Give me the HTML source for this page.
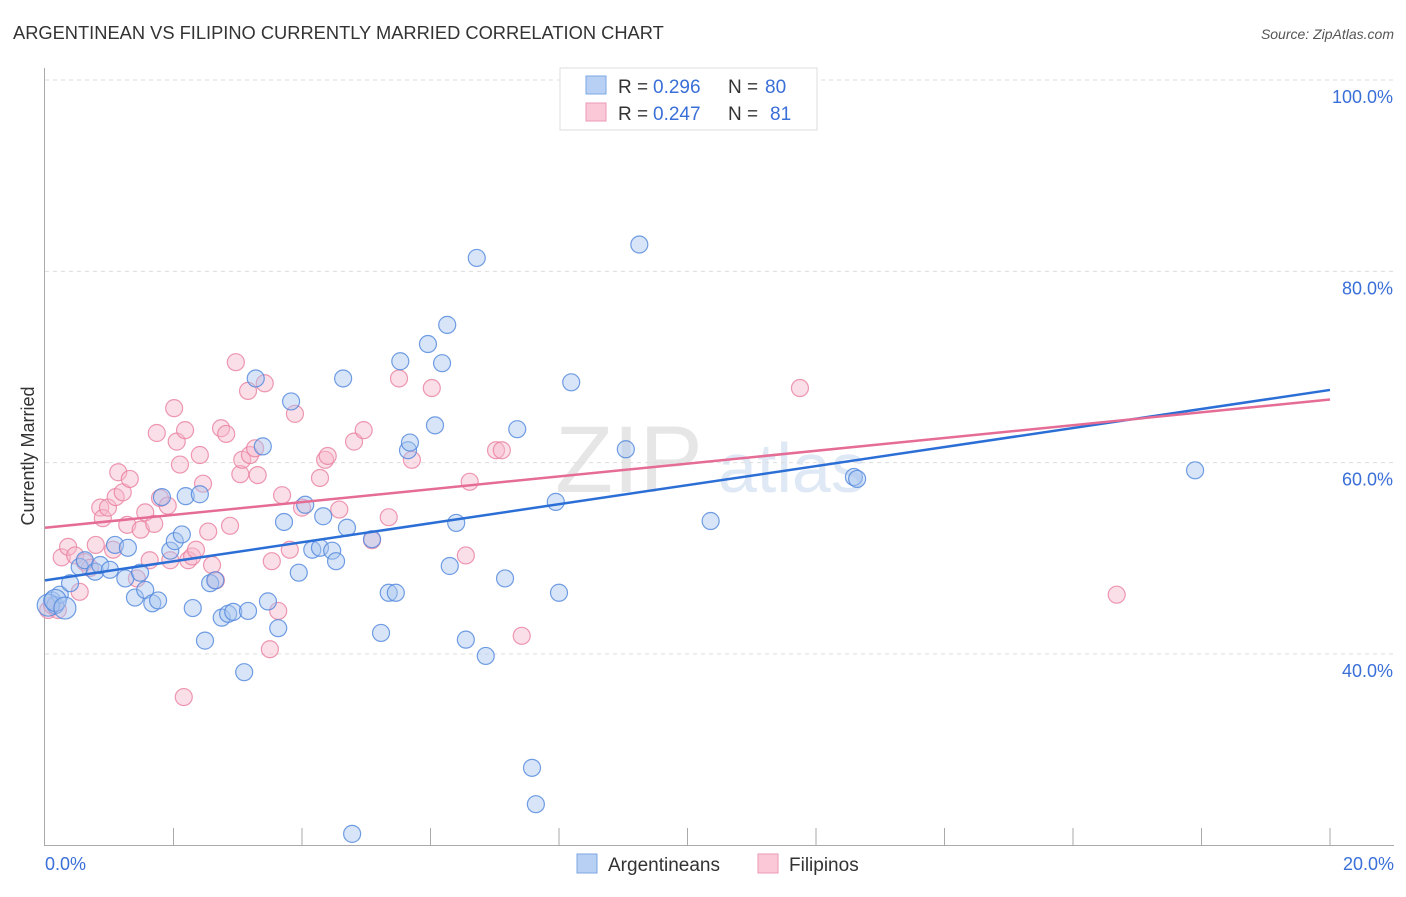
<!DOCTYPE html>
<html><head><meta charset="utf-8"><style>
body{margin:0;background:#fff;font-family:"Liberation Sans",sans-serif;}
svg text{font-family:"Liberation Sans",sans-serif;}
</style></head><body>
<svg id="c" width="1406" height="892">
<text x="13" y="39" font-size="18.3" fill="#333">ARGENTINEAN VS FILIPINO CURRENTLY MARRIED CORRELATION CHART</text>
<text x="1394" y="39" font-size="14" fill="#555" font-style="italic" text-anchor="end">Source: ZipAtlas.com</text>
<text x="555" y="492" font-size="95" fill="#e6e6e6" font-family="Liberation Serif">ZIP</text>
<text x="718" y="492" font-size="70" fill="#dfe8f5">atlas</text>
<text transform="translate(34,456) rotate(-90)" font-size="18" fill="#333" text-anchor="middle">Currently Married</text>
<g id="grid"></g><g id="pts"></g><g id="lines"></g>
<g>
<rect x="560" y="68" width="257" height="62" fill="#fff" stroke="#ddd"/>
<rect x="586" y="76" width="20" height="18" fill="#b8d0f3" stroke="#7ea6e6"/>
<rect x="586" y="103" width="20" height="18" fill="#fbc8d8" stroke="#ee9ab4"/>
<text x="618" y="93" font-size="19" fill="#333">R =</text>
<text x="653" y="93" font-size="19" fill="#3a6fd8">0.296</text>
<text x="728" y="93" font-size="19" fill="#333">N =</text>
<text x="765" y="93" font-size="19" fill="#3a6fd8">80</text>
<text x="618" y="120" font-size="19" fill="#333">R =</text>
<text x="653" y="120" font-size="19" fill="#3a6fd8">0.247</text>
<text x="728" y="120" font-size="19" fill="#333">N =</text>
<text x="770" y="120" font-size="19" fill="#3a6fd8">81</text>
</g>
<g>
<rect x="577" y="854" width="20" height="19" fill="#b8d0f3" stroke="#7ea6e6"/>
<text x="608" y="871" font-size="19" fill="#333">Argentineans</text>
<rect x="758" y="854" width="20" height="19" fill="#fbc8d8" stroke="#ee9ab4"/>
<text x="789" y="871" font-size="19" fill="#333">Filipinos</text>
</g>
<text x="45" y="870" font-size="18" fill="#3a6fd8">0.0%</text>
<text x="1394" y="870" font-size="18" fill="#3a6fd8" text-anchor="end">20.0%</text>
</svg>
<script>
const yTicks=[40,60,80,100];
const blueX=[0.11,0.16,0.23,0.39,0.54,0.62,0.78,0.86,1.01,1.09,1.25,1.29,1.40,1.48,1.56,1.67,1.76,1.82,1.95,2.02,2.13,2.19,2.30,2.41,2.49,2.57,2.65,2.75,2.85,2.93,3.10,3.16,3.28,3.39,3.47,3.63,3.72,3.83,3.95,4.05,4.16,4.28,4.33,4.47,4.53,4.64,4.70,4.78,5.09,5.23,5.35,5.46,5.53,5.65,5.68,5.96,6.07,6.18,6.26,6.30,6.40,6.55,6.72,6.86,7.16,7.35,7.58,7.64,7.95,8.00,8.19,9.04,9.25,10.36,12.59,12.64,17.90,0.05,0.16,0.31];
const blueY=[45.6,45.1,46.2,47.4,49.1,49.8,48.6,49.3,48.8,51.4,47.9,51.1,45.9,48.5,46.7,45.3,45.6,56.4,50.8,51.8,52.5,56.5,44.8,56.7,41.4,47.4,47.7,43.8,44.2,44.4,38.1,44.5,68.8,61.7,45.5,42.7,53.8,66.4,48.5,55.6,50.9,51.1,54.4,50.8,49.7,68.8,53.2,21.2,52.0,42.2,46.4,46.4,70.6,61.3,62.1,72.4,63.9,70.4,74.4,49.2,53.7,41.5,81.4,39.8,47.9,63.5,28.1,24.3,55.9,46.4,68.4,61.4,82.8,53.9,58.5,58.3,59.2,45.1,45.6,44.8];
const pinkX=[0.05,0.11,0.20,0.26,0.36,0.47,0.54,0.62,0.70,0.79,0.86,0.90,0.98,1.06,1.10,1.14,1.21,1.28,1.32,1.43,1.49,1.56,1.63,1.70,1.74,1.79,1.91,1.95,2.01,2.05,2.10,2.18,2.23,2.29,2.35,2.41,2.46,2.54,2.60,2.66,2.74,2.82,2.88,2.97,3.04,3.07,3.16,3.19,3.27,3.31,3.42,3.50,3.53,3.63,3.69,3.81,3.89,4.00,4.28,4.36,4.40,4.58,4.81,4.96,5.09,5.35,5.51,5.71,6.02,6.55,6.61,7.02,7.11,7.42,11.75,16.68,2.16];
const pinkY=[44.6,45.1,44.6,50.1,51.2,50.3,46.5,49.6,49.0,51.4,55.3,54.2,55.3,50.9,56.4,59.0,56.9,53.5,58.3,47.9,53.0,54.8,49.8,53.6,63.1,56.3,55.5,49.8,65.7,62.2,59.8,63.4,49.8,50.2,50.9,60.8,57.8,52.8,49.3,47.7,63.6,63.0,53.4,70.5,58.8,60.3,67.5,60.8,61.5,58.7,68.3,40.5,49.7,44.5,56.6,50.9,65.1,55.3,58.4,60.3,60.7,55.1,62.2,63.4,51.9,54.3,68.8,60.3,67.8,50.3,58.0,61.3,61.3,41.9,67.8,46.2,35.5];
const blueLine=[47.7,67.6], pinkLine=[53.2,66.6];
const X=v=>45+v*64.25, Y=v=>654-(v-40)*9.567;
const NS='http://www.w3.org/2000/svg';
const grid=document.getElementById('grid');
function mk(t,a,p){const e=document.createElementNS(NS,t);for(const k in a)e.setAttribute(k,a[k]);p.appendChild(e);return e;}
yTicks.forEach(t=>{
 const l=mk('line',{x1:45,x2:1394,y1:Y(t),y2:Y(t),stroke:'#ddd','stroke-dasharray':'4,4'},grid);
 
 
 const tx=mk('text',{x:1393,y:Y(t)+23,'font-size':18,fill:'#3a6fd8','text-anchor':'end'},grid);
 tx.textContent=t.toFixed(1)+'%';
 
 
});
const ax=mk('line',{x1:44.5,x2:44.5,y1:68,y2:846,stroke:'#aaa'},grid);


const bx=mk('line',{x1:44,x2:1394,y1:845.5,y2:845.5,stroke:'#aaa'},grid);


for(let i=1;i<=10;i++){const t=mk('line',{x1:X(i*2),x2:X(i*2),y1:828,y2:846,stroke:'#aaa'},grid);
 
 }
const pts=document.getElementById('pts');
function dots(xs,ys,f,s,n){xs.forEach((x,i)=>{const r=(i>=77)?11:8.5;
 const c=mk('circle',{cx:X(x),cy:Y(ys[i]),r:r,fill:f,'fill-opacity':0.45,stroke:s,'stroke-width':1.2,'stroke-opacity':0.8},pts);
 
 });}
dots(pinkX,pinkY,'#f7b8cc','#e8809f','filipino-point');
dots(blueX,blueY,'#a9c6f0','#4f86dc','argentinean-point');
const lg=document.getElementById('lines');
const bl=mk('line',{x1:X(0),y1:Y(blueLine[0]),x2:X(20),y2:Y(blueLine[1]),stroke:'#2b6fd6','stroke-width':2.5},lg);


const pl=mk('line',{x1:X(0),y1:Y(pinkLine[0]),x2:X(20),y2:Y(pinkLine[1]),stroke:'#e56c95','stroke-width':2.5},lg);


</script>
</body></html>
